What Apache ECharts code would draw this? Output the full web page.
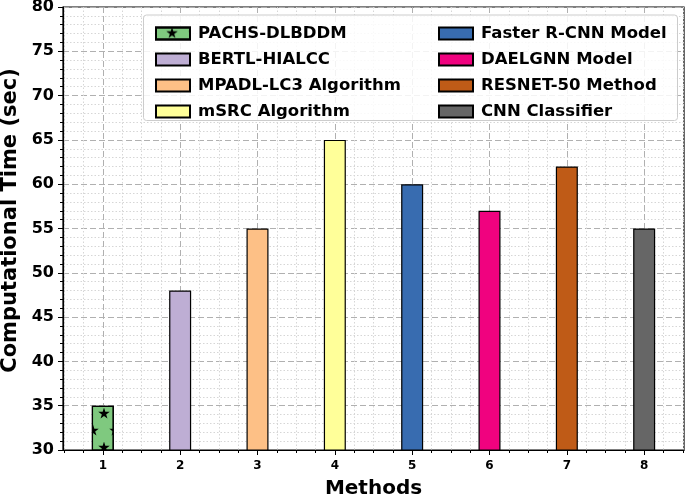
<!DOCTYPE html>
<html>
<head>
    <meta charset="UTF-8">
    <title>Computational Time</title>
    <script src="https://cdn.jsdelivr.net/npm/echarts/dist/echarts.min.js"></script>
    <style>
        body { margin: 0; background: #fff; }
    </style>
</head>
<body>
<div id="main" style="width: 685px; height: 497px;"></div>

<script>
    // data
    var methods = ['PACHS-DLBDDM', 'BERTL-HIALCC', 'MPADL-LC3 Algorithm', 'mSRC Algorithm',
        'Faster R-CNN Model', 'DAELGNN Model', 'RESNET-50 Method', 'CNN Classifier'];
    var positions = [1, 2, 3, 4, 5, 6, 7, 8];
    var times = [35, 48, 55, 65, 60, 57, 62, 55];
    var colors = ['#7fc97f', '#beaed4', '#fdc086', '#ffff99', '#386cb0', '#f0027f', '#bf5b17', '#666666'];

    // tick positions for the x axis (major + minor)
    var xMajorTicks = [1, 2, 3, 4, 5, 6, 7, 8];
    var xMinorTicks = [];
    for (var t = 0.5; t <= 8.5; t += 0.25) {
        if (t % 1 !== 0) xMinorTicks.push(t);
    }

    var xMin = 0.485, xMax = 8.515;
    var font = 'DejaVu Sans';
    var star = 'path://M50,0 L61,35 L98,35 L68,57 L79,91 L50,70 L21,91 L32,57 L2,35 L39,35 Z';

    var chartDom = document.getElementById('main');
    var myChart = echarts.init(chartDom);

    var series = [];
    for (var i = 0; i < methods.length; i++) {
        var s = {
            name: methods[i],
            type: 'bar',
            xAxisIndex: 0,
            barWidth: 22,
            barGap: '-100%',
            itemStyle: {
                color: colors[i],
                borderColor: '#000',
                borderWidth: 1.2
            },
            data: [[positions[i], times[i]]]
        };
        if (i === 0) {
            // star hatch on the first bar
            s.itemStyle.decal = {
                symbol: star,
                symbolSize: 1.15,
                color: '#000',
                dashArrayX: [[10, 12], [0, 11, 10, 1]],
                dashArrayY: [10, 6.5],
                rotation: 0
            };
        }
        series.push(s);
    }

    var legendCommon = {
        orient: 'vertical',
        top: 20,
        itemWidth: 34,
        itemHeight: 12,
        itemGap: 9,
        icon: 'rect',
        textStyle: {
            fontFamily: font,
            fontWeight: 'bold',
            fontSize: 16.5,
            lineHeight: 16,
            color: '#000',
            padding: [0, 0, 0, 3]
        }
    };

    var option = {
        animation: false,
        grid: {
            left: 63,
            top: 7,
            right: 1,
            bottom: 47,
            outerBoundsMode: 'none',
            containLabel: false,
            show: true,
            borderColor: '#000',
            borderWidth: 1.2,
            backgroundColor: 'transparent'
        },
        graphic: [{
            type: 'rect',
            z: 3,
            shape: { x: 143.5, y: 15, width: 534, height: 105.5, r: 3 },
            style: { fill: 'rgba(255,255,255,0.85)', stroke: '#cccccc', lineWidth: 1 }
        }],
        legend: [
            Object.assign({}, legendCommon, { left: 150, data: methods.slice(0, 4) }),
            Object.assign({}, legendCommon, { left: 433, data: methods.slice(4) })
        ],
        xAxis: [
            {
                type: 'value',
                min: xMin,
                max: xMax,
                name: 'Methods',
                nameLocation: 'middle',
                nameGap: 29,
                nameTextStyle: { fontFamily: font, fontWeight: 'bold', fontSize: 20, color: '#000' },
                axisLine: { show: true, lineStyle: { color: '#000', width: 1.2 } },
                axisTick: { show: true, length: 5, customValues: xMajorTicks, lineStyle: { color: '#000' } },
                axisLabel: {
                    customValues: xMajorTicks,
                    margin: 10,
                    fontFamily: font,
                    fontWeight: 'bold',
                    fontSize: 12,
                    color: '#000'
                },
                splitLine: { show: true, lineStyle: { color: '#b0b0b0', type: [6, 3], width: 1 } }
            },
            {
                // minor ticks and minor grid on x
                type: 'value',
                position: 'bottom',
                min: xMin,
                max: xMax,
                axisLine: { show: false },
                axisTick: { show: true, length: 3, customValues: xMinorTicks, lineStyle: { color: '#000' } },
                axisLabel: { show: false },
                splitLine: { show: true, lineStyle: { color: '#d6d6d6', type: [1.5, 2], width: 1 } }
            }
        ],
        yAxis: {
            type: 'value',
            min: 30,
            max: 80,
            interval: 5,
            name: 'Computational Time (sec)',
            nameLocation: 'middle',
            nameGap: 42,
            nameTextStyle: {
                fontFamily: font, fontWeight: 'bold', fontSize: 21, color: '#000',
                padding: [0, 0, 0, 16]
            },
            axisLine: { show: true, lineStyle: { color: '#000', width: 1.2 } },
            axisTick: { show: true, length: 5, lineStyle: { color: '#000' } },
            minorTick: { show: true, splitNumber: 5, length: 3, lineStyle: { color: '#000' } },
            axisLabel: {
                margin: 9,
                fontFamily: font,
                fontWeight: 'bold',
                fontSize: 16,
                color: '#000'
            },
            splitLine: { show: true, lineStyle: { color: '#b0b0b0', type: [6, 3], width: 1 } },
            minorSplitLine: { show: true, lineStyle: { color: '#d6d6d6', type: [1.5, 2], width: 1 } }
        },
        series: series
    };

    myChart.setOption(option);
</script>

</body>
</html>
